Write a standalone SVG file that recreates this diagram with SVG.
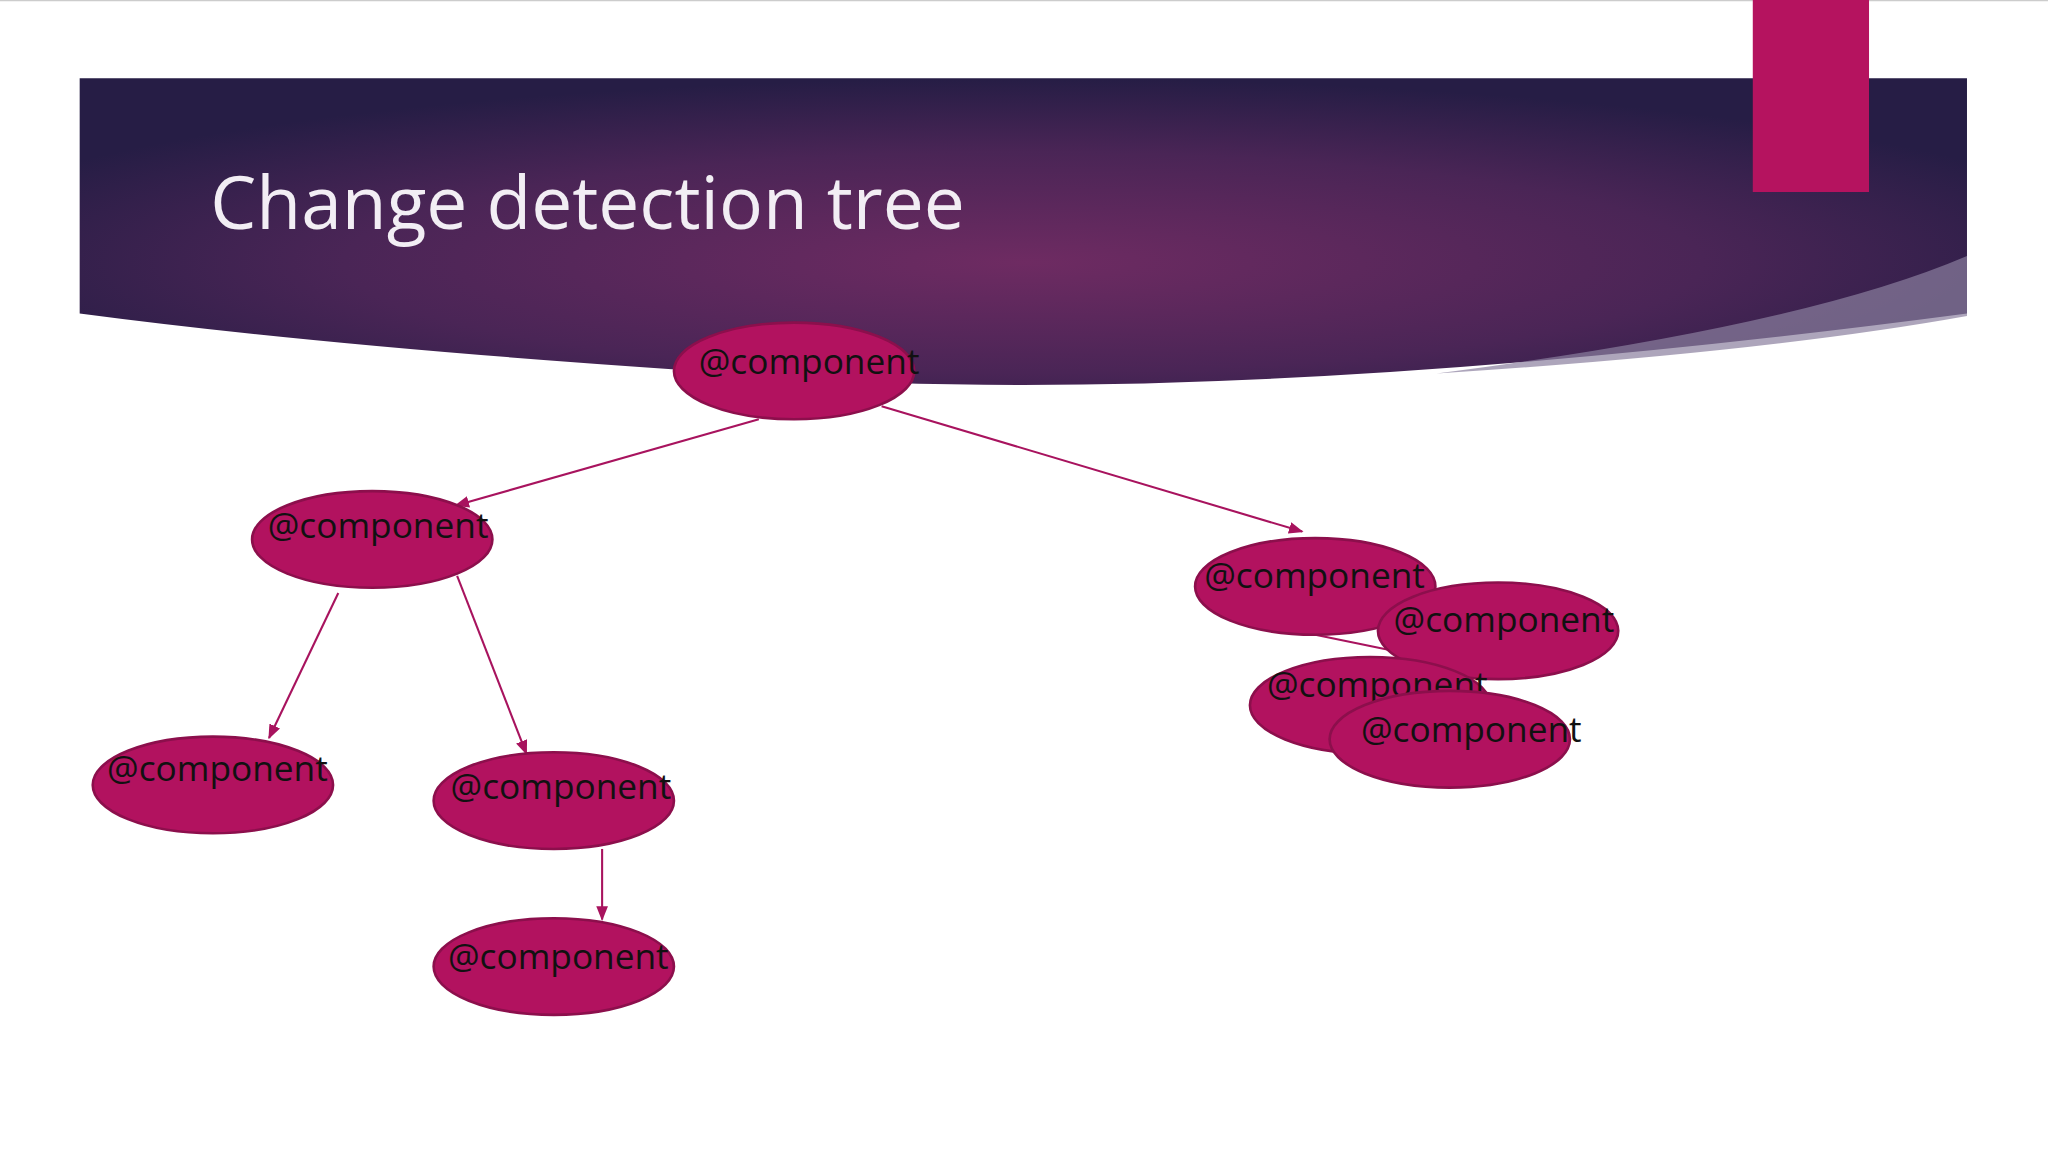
<svg xmlns="http://www.w3.org/2000/svg" width="2048" height="1152" viewBox="0 0 2048 1152">
<defs>
<radialGradient id="bg" cx="0.5" cy="0.6" r="0.6">
<stop offset="0" stop-color="#6e2b62"/>
<stop offset="0.6" stop-color="#4a2556"/>
<stop offset="1" stop-color="#261d45"/>
</radialGradient>
<marker id="ah" viewBox="0 0 10 10" refX="9" refY="5" markerWidth="7" markerHeight="7" orient="auto"><path d="M0,1 L10,5 L0,9 z" fill="#a8135e"/></marker>
<style>
.n ellipse{fill:#b2125f;stroke:#8c0f4c;stroke-width:2}
.n text{font-family:"Open Sans","Noto Sans",sans-serif;font-size:27px;fill:#111}
.c line{stroke:#a8135e;stroke-width:1.6;marker-end:url(#ah)}
</style>
</defs>
<rect width="2048" height="1152" fill="#fff"/>
<g transform="scale(1.3061)">
<line x1="0" y1="0.5" x2="1568" y2="0.5" stroke="#ccc"/>
<path d="M61,60 H1506 V240 Q900,320 520,283 Q250,265 61,240 Z" fill="url(#bg)"/>
<path d="M1506,196 Q1380,250 1100,286 Q1350,270 1506,242 Z" fill="#8a7f9e" opacity="0.7"/>
<rect x="1342" y="0" width="89" height="147" fill="#b5135f"/>
<text x="161" y="175" font-family="Open Sans,Noto Sans,sans-serif" font-size="56" fill="#f2eef4">Change detection tree</text>
<g class="c">
<line x1="581" y1="321" x2="349" y2="387"/>
<line x1="675" y1="311" x2="997" y2="407"/>
<line x1="259" y1="454" x2="206" y2="565"/>
<line x1="350" y1="441" x2="403" y2="577"/>
<line x1="461" y1="650" x2="461" y2="704"/>
<line x1="1007" y1="486" x2="1090" y2="503" style="marker-end:none"/>
</g>
<g id="n1" class="n"><ellipse cx="608" cy="284" rx="92" ry="37"/><text x="535" y="286">@component</text></g>
<g id="n2" class="n"><ellipse cx="285" cy="413" rx="92" ry="37"/><text x="205" y="412">@component</text></g>
<g id="n3" class="n"><ellipse cx="1007" cy="449" rx="92" ry="37"/><text x="922" y="450">@component</text></g>
<g id="n4" class="n"><ellipse cx="1147" cy="483" rx="92" ry="37"/><text x="1067" y="484">@component</text></g>
<g id="n5" class="n"><ellipse cx="1049" cy="540" rx="92" ry="37"/><text x="970" y="534">@component</text></g>
<g id="n6" class="n"><ellipse cx="1110" cy="566" rx="92" ry="37"/><text x="1042" y="568">@component</text></g>
<g id="n7" class="n"><ellipse cx="163" cy="601" rx="92" ry="37"/><text x="82" y="598">@component</text></g>
<g id="n8" class="n"><ellipse cx="424" cy="613" rx="92" ry="37"/><text x="345" y="612">@component</text></g>
<g id="n9" class="n"><ellipse cx="424" cy="740" rx="92" ry="37"/><text x="343" y="742">@component</text></g>
</g>
</svg>
